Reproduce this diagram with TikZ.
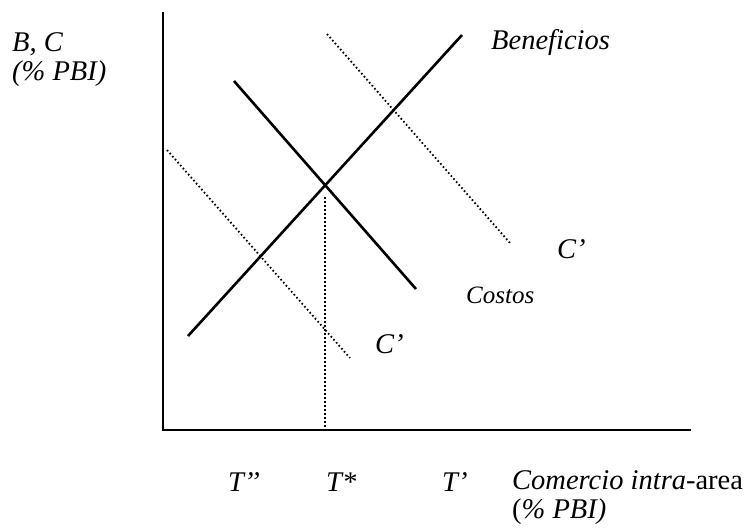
\documentclass[tikz,border=0pt]{standalone}
\usepackage{fontspec}
\setmainfont{Liberation Serif}
\begin{document}
\begin{tikzpicture}[x=1pt,y=-1pt,
  axis/.style={line width=2.6pt},
  curve/.style={line width=2.6pt},
  dotline/.style={line width=1.8pt, dash pattern=on 1.6pt off 2.4pt},
  lbl/.style={anchor=base west, inner sep=0pt, font=\fontsize{28.5}{32}\selectfont\itshape}]
\useasboundingbox (0,0) rectangle (751,531);
% axes
\coordinate (ytop) at (163,12);
\coordinate (origin) at (163,430);
\coordinate (xend) at (691,430);
\draw[axis] (ytop) -- (origin) -- (xend);
% curves
\coordinate (b1) at (188,336);
\coordinate (b2) at (462,35);
\draw[curve] (b1) -- (b2);
\coordinate (c1) at (234,81);
\coordinate (c2) at (416,289);
\draw[curve] (c1) -- (c2);
% dotted
\coordinate (d1) at (167,150);
\coordinate (d2) at (350,358);
\draw[dotline] (d1) -- (d2);
\coordinate (e1) at (327,34);
\coordinate (e2) at (510,243);
\draw[dotline] (e1) -- (e2);
\coordinate (v1) at (325,197);
\coordinate (v2) at (325,430);
\draw[dotline] (v1) -- (v2);
% labels
\node[lbl] (yl1) at (12,51) {B, C};
\node[lbl] (yl2) at (12,80) {(\% PBI)};
\node[lbl] (ben) at (491,49) {Beneficios};
\node[lbl] (cp1) at (557,258) {C’};
\node[lbl, font=\fontsize{25}{28}\selectfont\itshape] (cos) at (466,303) {Costos};
\node[lbl] (cp2) at (375,353) {C’};
\node[lbl] (t2) at (228,491) {T’’};
\node[lbl] (ts) at (326,491) {T*};
\node[lbl] (t1) at (442,491) {T’};
\node[lbl] (com) at (512,489) {Comercio intra\textup{-area}};
\node[lbl] (xl2) at (512,518) {\textup{(}\% PBI)};
\end{tikzpicture}
\end{document}
